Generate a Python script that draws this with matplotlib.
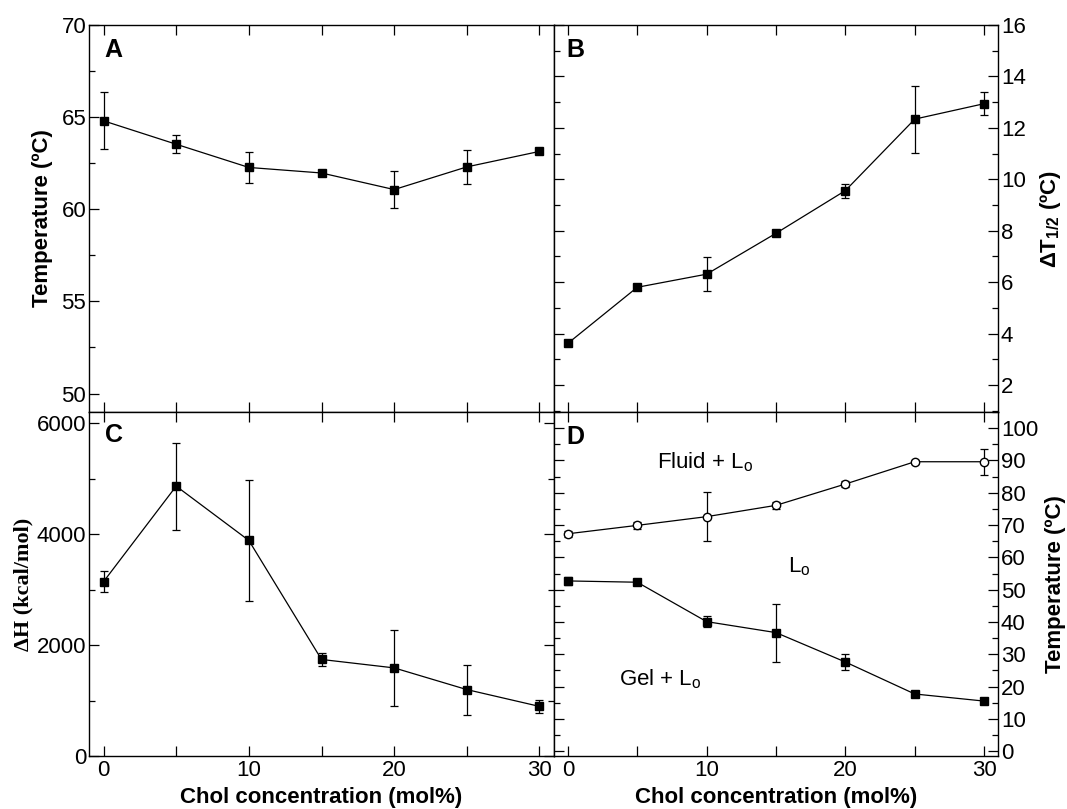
import matplotlib.pyplot as plt
from matplotlib.ticker import MultipleLocator

plt.rcParams['font.family'] = ['Liberation Sans', 'DejaVu Sans']
plt.rcParams['mathtext.fontset'] = 'custom'
plt.rcParams['mathtext.rm'] = 'Liberation Sans:bold'
plt.rcParams['mathtext.sf'] = 'Liberation Sans'

chol = [0, 5, 10, 15, 20, 25, 30]

# A: transition temperature
tm = [64.8, 63.53, 62.27, 61.97, 61.07, 62.3, 63.14]
tm_err = [1.55, 0.48, 0.85, 0.12, 1.0, 0.92, 0.1]

# B: half-width
dt = [3.62, 5.80, 6.31, 7.90, 9.56, 12.34, 12.94]
dt_err = [0.1, 0.1, 0.65, 0.1, 0.27, 1.3, 0.44]

# C: enthalpy
dh = [3142, 4864, 3885, 1740, 1588, 1197, 894]
dh_err = [185, 785, 1095, 110, 690, 450, 110]

# D: phase diagram
upper = [67.3, 69.9, 72.6, 76.1, 82.7, 89.6, 89.6]
upper_err = [1.0, 1.0, 7.5, 1.0, 1.0, 0.6, 4.0]
lower = [52.7, 52.3, 40.1, 36.7, 27.6, 17.7, 15.5]
lower_err = [1.3, 1.0, 1.8, 9.0, 2.6, 0.5, 0.5]

fig = plt.figure(figsize=(10.67, 8.09), dpi=100)
W, H = 1067, 809
def rect(x0, y0, x1, y1):
    return [x0 / W, 1 - y1 / H, (x1 - x0) / W, (y1 - y0) / H]

axA = fig.add_axes(rect(89, 25, 554, 412))
axB = fig.add_axes(rect(554, 25, 998, 412))
axC = fig.add_axes(rect(89, 412, 554, 756))
axD = fig.add_axes(rect(554, 412, 998, 756))

eb = dict(color='k', lw=0.9, elinewidth=0.9, capsize=3, capthick=0.9, ms=6)

for ax in [axA, axB, axC, axD]:
    ax.set_xlim(-1, 31)
    ax.xaxis.set_major_locator(MultipleLocator(10))
    ax.xaxis.set_minor_locator(MultipleLocator(5))
    ax.tick_params(axis='both', which='both', labelsize=16)
    ax.tick_params(axis='x', which='both', direction='in', top=True, length=7, width=0.9, pad=3)
    ax.tick_params(axis='y', which='major', direction='in', length=7, width=0.9, pad=2)
    ax.tick_params(axis='y', which='minor', direction='in', length=4, width=0.9)
    for s in ax.spines.values():
        s.set_linewidth(1.0)

for ax in [axA, axB]:
    ax.tick_params(axis='x', labelbottom=False)

# A
axA.errorbar(chol, tm, yerr=tm_err, fmt='-s', **eb)
axA.set_ylim(49, 70)
axA.yaxis.set_major_locator(MultipleLocator(5))
axA.yaxis.set_minor_locator(MultipleLocator(2.5))
axA.set_ylabel('Temperature (ºC)', fontsize=16, fontweight='bold', labelpad=6)

# B
axB.errorbar(chol, dt, yerr=dt_err, fmt='-s', **eb)
axB.set_ylim(0.95, 16)
axB.yaxis.set_major_locator(MultipleLocator(2))
axB.yaxis.set_minor_locator(MultipleLocator(1))
axB.yaxis.tick_right()
axB.tick_params(axis='y', which='both', left=True, right=True)
axB.yaxis.set_label_position('right')
axB.set_ylabel('ΔT$_{1/2}$ (ºC)', fontsize=16, fontweight='bold', labelpad=9)

# C
axC.errorbar(chol, dh, yerr=dh_err, fmt='-s', **eb)
axC.set_ylim(0, 6200)
axC.yaxis.set_major_locator(MultipleLocator(2000))
axC.yaxis.set_minor_locator(MultipleLocator(1000))
axC.tick_params(axis='y', which='both', right=True)
axC.set_ylabel('ΔH (kcal/mol)', fontsize=16, fontweight='bold',
               family='Liberation Serif', labelpad=2)
axC.set_xlabel('Chol concentration (mol%)', fontsize=16, fontweight='bold', labelpad=4)

# D
axD.errorbar(chol, upper, yerr=upper_err, fmt='-o', mfc='white', **eb)
axD.errorbar(chol, lower, yerr=lower_err, fmt='-s', **eb)
axD.set_ylim(-1.5, 105)
axD.yaxis.set_major_locator(MultipleLocator(10))
axD.yaxis.set_minor_locator(MultipleLocator(5))
axD.yaxis.tick_right()
axD.tick_params(axis='y', which='both', left=True, right=True)
axD.yaxis.set_label_position('right')
axD.set_ylabel('Temperature (ºC)', fontsize=16, fontweight='bold', labelpad=5)
axD.set_xlabel('Chol concentration (mol%)', fontsize=16, fontweight='bold', labelpad=4)
axD.text(6.4, 89.5, r'Fluid + L$_\mathsf{o}$', fontsize=16, va='center', ha='left')
axD.text(15.9, 57.1, r'L$_\mathsf{o}$', fontsize=16, va='center', ha='left')
axD.text(3.7, 22.2, r'Gel + L$_\mathsf{o}$', fontsize=16, va='center', ha='left')

for ax, lab, xx, yy in [(axA, 'A', 0.034, 0.935), (axB, 'B', 0.027, 0.935),
                        (axC, 'C', 0.034, 0.933), (axD, 'D', 0.027, 0.927)]:
    ax.text(xx, yy, lab, transform=ax.transAxes, fontsize=18, fontweight='bold',
            ha='left', va='center')

fig.savefig('out.png', dpi=100)
